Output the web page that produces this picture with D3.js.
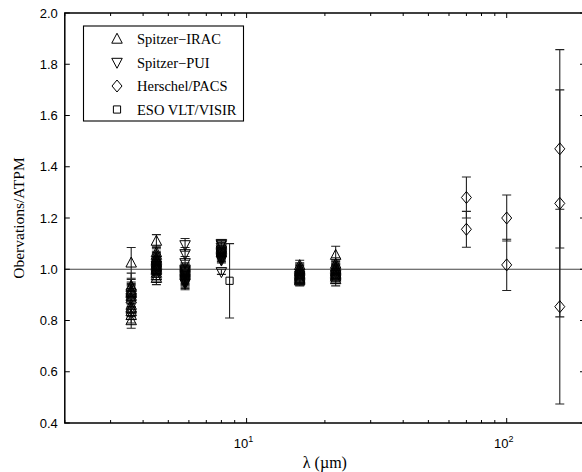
<!DOCTYPE html>
<html>
<head>
<meta charset="UTF-8">
<script src="https://d3js.org/d3.v7.min.js"></script>
<style>
  body { margin: 0; background: #fff; }
  svg { display: block; }
</style>
</head>
<body>
<script>
// [wavelength (um), ratio, error]
var iracPoints = [
  [3.6, 1.025, 0.06], [3.6, 0.935, 0.05], [3.6, 0.93, 0.03], [3.6, 0.92, 0.03], [3.6, 0.915, 0.03],
  [3.6, 0.91, 0.03], [3.6, 0.905, 0.03], [3.6, 0.895, 0.03], [3.6, 0.885, 0.03], [3.6, 0.86, 0.03],
  [3.6, 0.85, 0.03], [3.6, 0.845, 0.03], [3.6, 0.835, 0.03], [3.6, 0.82, 0.03], [3.6, 0.80, 0.03],
  [4.5, 1.11, 0.025], [4.5, 1.065, 0.025], [4.5, 1.055, 0.025], [4.5, 1.045, 0.025], [4.5, 1.04, 0.025],
  [4.5, 1.035, 0.025], [4.5, 1.03, 0.025], [4.5, 1.025, 0.025], [4.5, 1.02, 0.025], [4.5, 1.015, 0.025],
  [4.5, 1.01, 0.025], [4.5, 1.005, 0.025], [4.5, 1.0, 0.025], [4.5, 0.995, 0.025], [4.5, 0.985, 0.025],
  [4.5, 0.975, 0.025], [4.5, 0.965, 0.025],
  [16, 1.015, 0.02], [16, 1.005, 0.02], [16, 1.0, 0.02], [16, 0.995, 0.02], [16, 0.99, 0.02],
  [16, 0.985, 0.02], [16, 0.98, 0.02], [16, 0.975, 0.02], [16, 0.97, 0.02], [16, 0.965, 0.02],
  [16, 0.96, 0.02], [16, 0.955, 0.02],
  [22, 1.055, 0.035], [22, 1.02, 0.025], [22, 1.01, 0.025], [22, 1.005, 0.025], [22, 1.0, 0.025],
  [22, 0.995, 0.025], [22, 0.99, 0.025], [22, 0.985, 0.025], [22, 0.98, 0.025], [22, 0.975, 0.025],
  [22, 0.97, 0.025], [22, 0.96, 0.025]
];
var puiPoints = [
  [5.8, 1.095, 0.025], [5.8, 1.06, 0.025], [5.8, 1.025, 0.025], [5.8, 1.0, 0.025], [5.8, 0.995, 0.025],
  [5.8, 0.99, 0.025], [5.8, 0.985, 0.025], [5.8, 0.98, 0.025], [5.8, 0.975, 0.025], [5.8, 0.97, 0.025],
  [5.8, 0.965, 0.025], [5.8, 0.96, 0.025], [5.8, 0.955, 0.025], [5.8, 0.95, 0.025], [5.8, 0.945, 0.025],
  [8.0, 1.10, 0.01], [8.0, 1.095, 0.01], [8.0, 1.085, 0.01], [8.0, 1.075, 0.01], [8.0, 1.07, 0.01],
  [8.0, 1.065, 0.01], [8.0, 1.06, 0.01], [8.0, 1.055, 0.01], [8.0, 1.05, 0.01], [8.0, 1.045, 0.01],
  [8.0, 1.04, 0.01], [8.0, 1.035, 0.01], [8.0, 0.99, 0.01]
];
var pacsPoints = [
  [70, 1.28, 0.08], [70, 1.156, 0.07],
  [100, 1.20, 0.09], [100, 1.017, 0.10],
  [160, 1.47, 0.387], [160, 1.257, 0.443], [160, 0.854, 0.38]
];
var visirPoints = [
  [8.6, 0.955, 0.145]
];

var legendLabels = ["Spitzer\u2212IRAC", "Spitzer\u2212PUI", "Herschel/PACS", "ESO VLT/VISIR"];
var yTicks = [0.4, 0.6, 0.8, 1.0, 1.2, 1.4, 1.6, 1.8, 2.0];
var xMajor = [10, 100];
var xMinor = [2, 3, 4, 5, 6, 7, 8, 9, 20, 30, 40, 50, 60, 70, 80, 90, 200];

var W = 582, H = 472;
var x = d3.scaleLog().domain([2, 200]).range([64.8, 585]);
var y = d3.scaleLinear().domain([0.4, 2.0]).range([423, 13]);

var svg = d3.select("body").append("svg").attr("width", W).attr("height", H);

// reference line at 1
svg.append("line")
  .attr("x1", x(2)).attr("x2", x(200))
  .attr("y1", y(1)).attr("y2", y(1))
  .attr("stroke", "#444").attr("stroke-width", 1.2);

// ticks
var tickG = svg.append("g").attr("stroke", "#000").attr("stroke-width", 1);
yTicks.forEach(function(v) {
  tickG.append("line").attr("x1", x(2)).attr("x2", x(2) + 5).attr("y1", y(v)).attr("y2", y(v));
  tickG.append("line").attr("x1", x(200)).attr("x2", x(200) - 5).attr("y1", y(v)).attr("y2", y(v));
});
xMajor.forEach(function(v) {
  tickG.append("line").attr("x1", x(v)).attr("x2", x(v)).attr("y1", y(0.4)).attr("y2", y(0.4) - 5);
  tickG.append("line").attr("x1", x(v)).attr("x2", x(v)).attr("y1", y(2)).attr("y2", y(2) + 5);
});
xMinor.forEach(function(v) {
  tickG.append("line").attr("x1", x(v)).attr("x2", x(v)).attr("y1", y(0.4)).attr("y2", y(0.4) - 3);
  tickG.append("line").attr("x1", x(v)).attr("x2", x(v)).attr("y1", y(2)).attr("y2", y(2) + 3);
});

// tick labels
svg.append("g").selectAll("text").data(yTicks).enter().append("text")
  .attr("x", x(2) - 7).attr("y", function(d) { return y(d) + 4.5; })
  .attr("text-anchor", "end")
  .attr("font-family", "Liberation Sans, Arial, sans-serif").attr("font-size", 13)
  .text(function(d) { return d.toFixed(1); });

var xl = svg.append("g").selectAll("text").data(xMajor).enter().append("text")
  .attr("x", function(d) { return x(d) - 3; }).attr("y", 448)
  .attr("text-anchor", "middle")
  .attr("font-family", "Liberation Sans, Arial, sans-serif").attr("font-size", 13);
xl.append("tspan").text("10");
xl.append("tspan").attr("dy", -6).attr("font-size", 9)
  .text(function(d) { return Math.round(Math.log10(d)); });

// axis titles
svg.append("text")
  .attr("x", (x(2) + x(200)) / 2).attr("y", 468)
  .attr("text-anchor", "middle")
  .attr("font-family", "Liberation Serif, Times New Roman, serif").attr("font-size", 16)
  .text("\u03bb (\u00b5m)");
svg.append("text")
  .attr("transform", "translate(24," + (y(1.2)) + ") rotate(-90)")
  .attr("text-anchor", "middle")
  .attr("font-family", "Liberation Serif, Times New Roman, serif").attr("font-size", 15.5)
  .text("Obervations/ATPM");

// marker shapes
function triUp(s) { return "M0," + (-s * 0.55) + "L" + s * 0.5 + "," + s * 0.4 + "L" + (-s * 0.5) + "," + s * 0.4 + "Z"; }
function triDown(s) { return "M0," + s * 0.55 + "L" + s * 0.5 + "," + (-s * 0.4) + "L" + (-s * 0.5) + "," + (-s * 0.4) + "Z"; }
function diamond(s) { return "M0," + (-s * 0.6) + "L" + s * 0.5 + ",0L0," + s * 0.6 + "L" + (-s * 0.5) + ",0Z"; }
function square(s) { var h = s * 0.4; return "M" + (-h) + "," + (-h) + "H" + h + "V" + h + "H" + (-h) + "Z"; }

function drawSeries(points, shape, size) {
  var g = svg.append("g");
  var cap = 4.5;
  g.selectAll("path.eb").data(points).enter().append("path")
    .attr("class", "eb")
    .attr("d", function(d) {
      var px = x(d[0]), lo = y(d[1] - d[2]), hi = y(d[1] + d[2]);
      return "M" + px + "," + lo + "V" + hi +
        "M" + (px - cap) + "," + hi + "H" + (px + cap) +
        "M" + (px - cap) + "," + lo + "H" + (px + cap);
    })
    .attr("fill", "none").attr("stroke", "#222").attr("stroke-width", 1.1);
  g.selectAll("path.mk").data(points).enter().append("path")
    .attr("class", "mk")
    .attr("transform", function(d) { return "translate(" + x(d[0]) + "," + y(d[1]) + ")"; })
    .attr("d", shape(size))
    .attr("fill", "none").attr("stroke", "#000").attr("stroke-width", 1);
}

drawSeries(iracPoints, triUp, 10.5);
drawSeries(puiPoints, triDown, 10.5);
drawSeries(pacsPoints, diamond, 10);
drawSeries(visirPoints, square, 9);

// frame
svg.append("rect")
  .attr("x", x(2)).attr("y", y(2))
  .attr("width", x(200) - x(2)).attr("height", y(0.4) - y(2))
  .attr("fill", "none").attr("stroke", "#000").attr("stroke-width", 1.5);

// legend
var shapes = [triUp, triDown, diamond, square];
var sizes = [10.5, 10.5, 10, 9];
var leg = svg.append("g");
leg.append("rect").attr("x", 83.5).attr("y", 26).attr("width", 160).attr("height", 95)
  .attr("fill", "#fff").attr("stroke", "#000").attr("stroke-width", 1.1);
legendLabels.forEach(function(t, i) {
  var ly = 39 + i * 23.5;
  leg.append("path").attr("transform", "translate(117," + ly + ")")
    .attr("d", shapes[i](sizes[i])).attr("fill", "none").attr("stroke", "#000");
  leg.append("text").attr("x", 137).attr("y", ly + 5)
    .attr("font-family", "Liberation Serif, Times New Roman, serif").attr("font-size", 14.5)
    .text(t);
});
</script>
</body>
</html>
